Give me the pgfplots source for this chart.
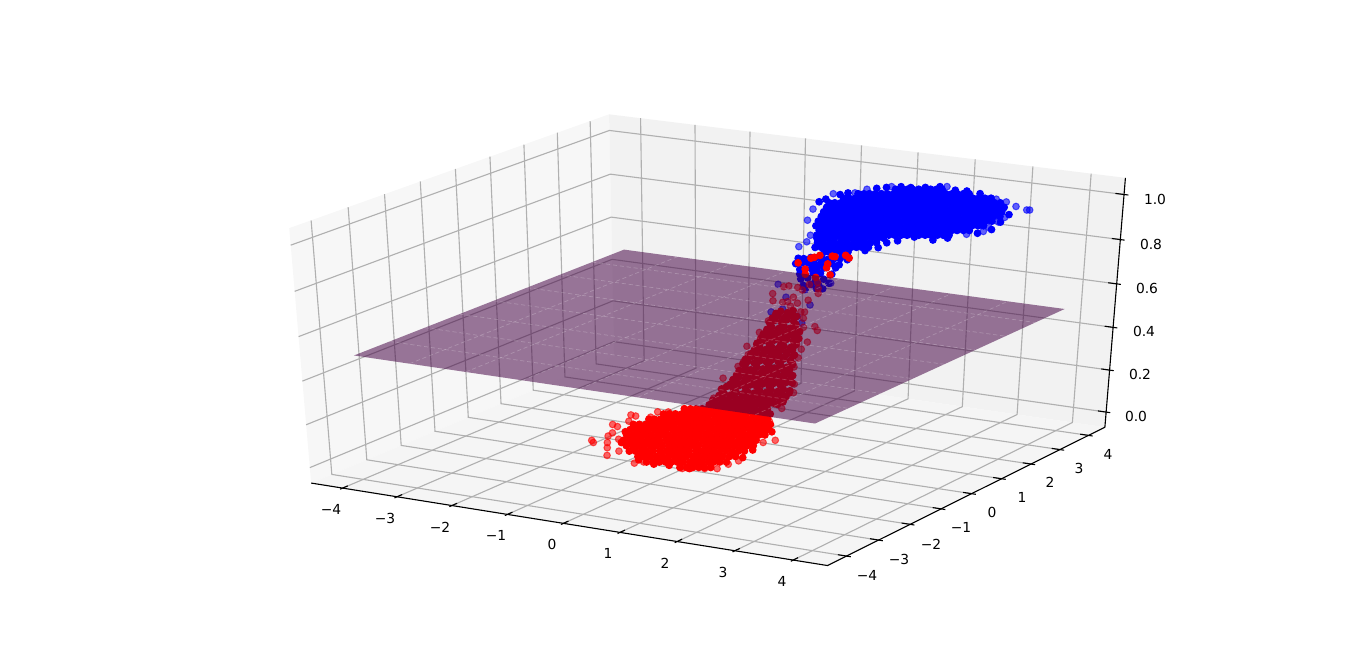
\documentclass[border=0pt]{standalone}
\usepackage{fontspec}
\setmainfont{DejaVu Sans}
\usepackage{pgfplots}
\pgfplotsset{compat=1.18}
\definecolor{planecol}{RGB}{66,0,66}
\definecolor{gridcol}{RGB}{176,176,176}
\definecolor{panex}{RGB}{247,247,247}
\definecolor{paney}{RGB}{242,242,242}
\definecolor{panez}{RGB}{245,245,245}
% perspective view of the 3d data, elev 30 azim -60, limits +-4.4 and -0.05..1.05, result in pixels
\pgfplotsset{
  table/proj/.style={row sep=\\,
    x expr={PX(\thisrow{x},\thisrow{y},\thisrow{z})},
    y expr={PY(\thisrow{x},\thisrow{y},\thisrow{z})}},
  table/projz/.style={row sep=\\,
    x expr={PX(\thisrow{x},\thisrow{y},#1)},
    y expr={PY(\thisrow{x},\thisrow{y},#1)}},
  pts/.style={only marks,mark=*,mark size=2.4bp,line width=0.72bp,color=#1,mark options={fill=#1,draw=#1}},
  ptsa/.style={only marks,mark=*,mark size=2.4bp,line width=0.72bp,color=#1,mark options={fill=#1,draw=#1,opacity=0.6}},
  gridl/.style={gridcol,line width=0.8bp,no marks},
  tickl/.style={black,line width=0.8bp,no marks},
  seam/.style={white,opacity=0.22,line width=0.5bp,dash pattern=on 3bp off 2bp,no marks},
}
\begin{document}
\begin{tikzpicture}[
  declare function={
    qw(\x,\y,\z)=10-(0.4330127*\x/8.8-0.75*\y/8.8+0.5*(\z-0.5)/1.1);
    PX(\x,\y,\z)=714.4+5722*(0.8660254*\x/8.8+0.5*\y/8.8)/qw(\x,\y,\z);
    PY(\x,\y,\z)=331.9-2793*(-0.25*\x/8.8+0.4330127*\y/8.8+0.8660254*(\z-0.5)/1.1)/qw(\x,\y,\z);
  }]
\useasboundingbox (0,0) rectangle (983.52bp,483.12bp);
\begin{axis}[at={(0,0)},anchor=south west,width=983.52bp,height=483.12bp,scale only axis,
  xmin=0,xmax=1366,ymin=0,ymax=671,y dir=reverse,hide axis,clip mode=individual,
  every node/.append style={font=\fontsize{10}{12}\selectfont,text=black,inner sep=0pt}]

% panes
\addplot[fill=panex,draw=none] table[proj]{x y z\\-4.5833 -4.5833 -0.0729\\-4.5833 -4.5833 1.0729\\-4.5833 4.5833 1.0729\\-4.5833 4.5833 -0.0729\\} --cycle;
\addplot[fill=paney,draw=none] table[proj]{x y z\\-4.5833 4.5833 -0.0729\\-4.5833 4.5833 1.0729\\4.5833 4.5833 1.0729\\4.5833 4.5833 -0.0729\\} --cycle;
\addplot[fill=panez,draw=none] table[proj]{x y z\\-4.5833 -4.5833 -0.0729\\4.5833 -4.5833 -0.0729\\4.5833 4.5833 -0.0729\\-4.5833 4.5833 -0.0729\\} --cycle;

% grid
\pgfplotsinvokeforeach{-4,-3,-2,-1,0,1,2,3,4}{
  \addplot[gridl] table[proj]{x y z\\#1 -4.5833 -0.0729\\#1 4.5833 -0.0729\\#1 4.5833 1.0729\\};
  \addplot[gridl] table[proj]{x y z\\4.5833 #1 -0.0729\\-4.5833 #1 -0.0729\\-4.5833 #1 1.0729\\};
  \addplot[tickl] table[proj]{x y z\\#1 -4.6566 -0.0729\\#1 -4.4366 -0.0729\\};
  \addplot[tickl] table[proj]{x y z\\4.6566 #1 -0.0729\\4.4366 #1 -0.0729\\};
}
\pgfplotsinvokeforeach{0,0.2,0.4,0.6,0.8,1.0}{
  \addplot[gridl] table[proj]{x y z\\-4.5833 -4.5833 #1\\-4.5833 4.5833 #1\\4.5833 4.5833 #1\\};
  \addplot[tickl] table[proj]{x y z\\4.6566 4.5833 #1\\4.4366 4.5833 #1\\};
}
% axis lines
\addplot[tickl] table[proj]{x y z\\-4.5833 -4.5833 -0.0729\\4.5833 -4.5833 -0.0729\\4.5833 4.5833 -0.0729\\4.5833 4.5833 1.0729\\};

% blue cluster, upper edge points
\addplot[ptsa=blue] table[projz=0.98]{x y\\.56 2.68\\3.39 3.31\\3.64 3.18\\3.68 3.20\\3.73 1.59\\3.69 1.85\\3.60 1.30\\2.90 3.60\\3.12 3.51\\3.28 3.11\\3.58 2.57\\3.64 2.25\\1.84 3.99\\1.10 3.56\\.86 3.21\\.82 2.90\\1.09 .92\\.80 1.61\\1.61 .08\\1.77 -.32\\1.82 -.65\\};
% blue cluster, dense part
\addplot[pts=blue] table[projz=0.98]{x y\\
.96 3.34\\1.06 3.47\\1.23 3.63\\1.39 3.65\\1.58 3.77\\1.75 3.93\\2.07 3.83\\2.25 3.87\\2.51 3.81\\2.80 3.62\\3.55 2.77\\3.67 2.26\\3.78 1.76\\3.71 1.44\\3.47 .94\\3.34 .72\\3.01 .75\\2.91 .41\\2.83 .22\\2.87 -.12\\2.79 -.38\\2.60 -.56\\.64 2.09\\.64 2.30\\.68 2.68\\.73 2.84\\
1.78 -.03\\1.86 .01\\1.93 .06\\2.01 .10\\2.09 .15\\2.17 .19\\2.25 .24\\2.33 .28\\2.40 .33\\2.48 .37\\2.56 .42\\2.64 .46\\
1.24 3.43\\1.32 3.47\\1.40 3.52\\1.47 3.56\\1.55 3.61\\1.63 3.65\\1.71 3.70\\1.79 3.74\\1.86 3.79\\
.89 2.87\\.97 2.91\\1.04 2.96\\1.12 3.00\\1.20 3.05\\1.28 3.09\\1.36 3.14\\1.43 3.18\\1.51 3.23\\1.59 3.27\\1.67 3.32\\1.75 3.36\\1.82 3.41\\1.90 3.45\\1.98 3.50\\2.06 3.54\\2.14 3.59\\2.21 3.63\\2.29 3.68\\2.37 3.72\\
.85 2.49\\.92 2.53\\1.00 2.58\\1.08 2.62\\1.16 2.67\\1.24 2.71\\1.31 2.76\\1.39 2.80\\1.47 2.85\\1.55 2.89\\1.63 2.94\\1.70 2.98\\1.78 3.03\\1.86 3.07\\1.94 3.12\\2.02 3.16\\2.09 3.21\\2.17 3.25\\2.25 3.30\\2.33 3.34\\2.41 3.39\\2.48 3.43\\2.56 3.48\\2.64 3.52\\2.72 3.57\\
.80 2.11\\.88 2.15\\.96 2.20\\1.04 2.24\\1.11 2.29\\1.19 2.33\\1.27 2.38\\1.35 2.42\\1.43 2.47\\1.51 2.51\\1.58 2.56\\1.66 2.60\\1.74 2.65\\1.82 2.69\\1.90 2.74\\1.97 2.78\\2.05 2.83\\2.13 2.87\\2.21 2.92\\2.29 2.96\\2.36 3.01\\2.44 3.05\\2.52 3.10\\2.60 3.14\\2.68 3.19\\2.75 3.23\\2.83 3.28\\2.91 3.32\\2.99 3.37\\3.07 3.41\\
.92 1.82\\1.00 1.86\\1.08 1.91\\1.15 1.95\\1.23 2.00\\1.31 2.04\\1.39 2.09\\1.47 2.13\\1.54 2.18\\1.62 2.22\\1.70 2.27\\1.78 2.31\\1.86 2.36\\1.93 2.40\\2.01 2.45\\2.09 2.49\\2.17 2.54\\2.25 2.59\\2.33 2.63\\2.40 2.68\\2.48 2.72\\2.56 2.77\\2.64 2.81\\2.72 2.86\\2.79 2.90\\2.87 2.95\\2.95 2.99\\3.03 3.04\\3.11 3.08\\3.18 3.13\\3.26 3.17\\
1.03 1.53\\1.11 1.57\\1.19 1.62\\1.27 1.66\\1.35 1.71\\1.42 1.75\\1.50 1.80\\1.58 1.84\\1.66 1.89\\1.74 1.93\\1.81 1.98\\1.89 2.02\\1.97 2.07\\2.05 2.11\\2.13 2.16\\2.20 2.20\\2.28 2.25\\2.36 2.29\\2.44 2.34\\2.52 2.38\\2.59 2.43\\2.67 2.47\\2.75 2.52\\2.83 2.56\\2.91 2.61\\2.98 2.65\\3.06 2.70\\3.14 2.74\\3.22 2.79\\3.30 2.83\\3.37 2.88\\
1.15 1.24\\1.23 1.28\\1.31 1.33\\1.38 1.37\\1.46 1.42\\1.54 1.46\\1.62 1.51\\1.70 1.55\\1.77 1.60\\1.85 1.64\\1.93 1.69\\2.01 1.73\\2.09 1.78\\2.16 1.82\\2.24 1.87\\2.32 1.91\\2.40 1.96\\2.48 2.00\\2.55 2.05\\2.63 2.09\\2.71 2.14\\2.79 2.18\\2.87 2.23\\2.94 2.27\\3.02 2.32\\3.10 2.36\\3.18 2.41\\3.26 2.45\\3.33 2.50\\3.41 2.54\\3.49 2.59\\
1.26 .95\\1.34 .99\\1.42 1.04\\1.50 1.08\\1.58 1.13\\1.65 1.17\\1.73 1.22\\1.81 1.26\\1.89 1.31\\1.97 1.35\\2.04 1.40\\2.12 1.44\\2.20 1.49\\2.28 1.53\\2.36 1.58\\2.43 1.62\\2.51 1.67\\2.59 1.71\\2.67 1.76\\2.75 1.80\\2.82 1.85\\2.90 1.89\\2.98 1.94\\3.06 1.98\\3.14 2.03\\3.21 2.07\\3.29 2.12\\3.37 2.16\\3.45 2.21\\3.53 2.25\\
1.38 .66\\1.46 .71\\1.54 .75\\1.61 .80\\1.69 .84\\1.77 .89\\1.85 .93\\1.93 .98\\2.00 1.02\\2.08 1.07\\2.16 1.11\\2.24 1.16\\2.32 1.20\\2.39 1.25\\2.47 1.29\\2.55 1.34\\2.63 1.38\\2.71 1.43\\2.78 1.47\\2.86 1.52\\2.94 1.56\\3.02 1.61\\3.10 1.65\\3.17 1.70\\3.25 1.74\\3.33 1.79\\3.41 1.83\\3.49 1.88\\3.56 1.92\\
1.57 .42\\1.65 .46\\1.73 .51\\1.80 .55\\1.88 .60\\1.96 .64\\2.04 .69\\2.12 .73\\2.19 .78\\2.27 .82\\2.35 .87\\2.43 .91\\2.51 .96\\2.58 1.00\\2.66 1.05\\2.74 1.09\\2.82 1.14\\2.90 1.18\\2.97 1.23\\3.05 1.27\\3.13 1.32\\3.21 1.36\\3.29 1.41\\3.36 1.45\\3.44 1.50\\3.52 1.54\\
1.69 .13\\1.77 .17\\1.84 .22\\1.92 .26\\2.00 .31\\2.08 .35\\2.16 .40\\2.23 .44\\2.31 .49\\2.39 .53\\2.47 .58\\2.55 .62\\2.62 .67\\2.70 .71\\2.78 .76\\2.86 .80\\2.94 .85\\3.01 .89\\3.09 .94\\3.17 .98\\3.25 1.03\\3.33 1.07\\3.40 1.12\\
};
\addplot[pts=blue] table[projz=0.85]{x y\\
1.00 1.41\\1.08 1.45\\1.16 1.50\\1.23 1.54\\1.31 1.59\\1.39 1.63\\1.47 1.68\\1.55 1.72\\1.62 1.77\\1.70 1.81\\1.78 1.86\\
1.12 1.12\\1.20 1.17\\1.27 1.21\\1.35 1.26\\1.43 1.30\\1.51 1.35\\1.59 1.39\\1.66 1.44\\1.74 1.48\\1.82 1.53\\
1.39 .92\\1.46 .96\\1.54 1.01\\1.62 1.05\\1.70 1.10\\
};
% blue, on the way down
\addplot[pts=blue] table[proj]{x y z\\
1.03 .76 .82\\.90 1.17 .79\\1.17 .90 .82\\1.04 1.31 .79\\1.30 1.03 .81\\1.17 1.44 .78\\1.44 1.17 .81\\1.31 1.58 .78\\1.58 1.31 .80\\
.81 1.08 .77\\1.08 .81 .80\\.95 1.22 .77\\1.21 .94 .79\\1.08 1.35 .76\\1.35 1.08 .79\\1.22 1.49 .76\\1.49 1.22 .78\\
1.05 .78 .77\\.91 1.18 .74\\1.18 .91 .77\\1.05 1.32 .74\\1.32 1.05 .77\\1.26 1.53 .74\\
1.05 .78 .75\\.91 1.18 .72\\1.20 .93 .75\\1.09 1.36 .72\\1.41 1.14 .74\\
.87 1.14 .70\\1.14 .87 .73\\1.04 1.31 .69\\1.32 1.05 .72\\
.90 1.17 .67\\1.18 .91 .70\\1.07 1.34 .67\\1.38 1.11 .70\\
.92 1.19 .65\\1.24 .97 .68\\1.12 1.39 .65\\
};
\addplot[ptsa=blue] table[proj]{x y z\\.81 .54 .71\\.54 .81 .56\\.90 .63 .65\\.98 1.25 .58\\1.40 1.13 .70\\.89 1.16 .50\\1.03 .76 .56\\.67 .94 .57\\};

% red cluster, edge points
\addplot[ptsa=red] table[projz=0.02]{x y\\-1.51 -1.23\\-1.42 -1.33\\-.84 -1.88\\-1.07 -1.49\\-1.23 -1.22\\-1.42 -.88\\-1.72 -.24\\-1.59 -.31\\-1.46 -.68\\-1.18 -.96\\-.81 -1.57\\-1.60 .06\\-1.77 .41\\-1.67 .39\\-1.43 .45\\-1.50 .79\\-1.35 .87\\-.24 -2.06\\-.15 -1.93\\.56 -1.96\\.86 -1.79\\1.03 -1.70\\1.05 -1.39\\1.09 -1.14\\.88 0\\.98 .21\\.33 1.17\\};
% red cluster, dense part
\addplot[pts=red] table[projz=0.02]{x y\\
-.28 -1.86\\.05 -1.96\\.29 -1.90\\.66 -1.91\\1.05 -.94\\.96 -.47\\.68 .63\\-1.32 -.52\\-1.04 -1.11\\
-1.23 1.17\\-1.14 1.21\\-1.06 1.26\\-.98 1.31\\-.90 1.36\\-.82 1.40\\-.74 1.45\\-.65 1.50\\-.57 1.54\\-.49 1.59\\-.41 1.64\\-.33 1.69\\-.25 1.73\\-.16 1.78\\-.08 1.83\\
-1.35 .72\\-1.27 .77\\-1.19 .82\\-1.10 .86\\-1.02 .91\\-.94 .96\\-.86 1.01\\-.78 1.05\\-.70 1.10\\-.61 1.15\\-.53 1.19\\-.45 1.24\\-.37 1.29\\-.29 1.34\\-.21 1.38\\-.12 1.43\\-.04 1.48\\.04 1.53\\.12 1.57\\
-1.39 .33\\-1.31 .37\\-1.23 .42\\-1.15 .47\\-1.07 .52\\-.98 .56\\-.90 .61\\-.82 .66\\-.74 .70\\-.66 .75\\-.58 .80\\-.49 .85\\-.41 .89\\-.33 .94\\-.25 .99\\-.17 1.03\\-.09 1.08\\0 1.13\\.08 1.18\\.16 1.22\\.24 1.27\\
-1.44 -.07\\-1.36 -.02\\-1.27 .02\\-1.19 .07\\-1.11 .12\\-1.03 .17\\-.95 .21\\-.87 .26\\-.78 .31\\-.70 .35\\-.62 .40\\-.54 .45\\-.46 .50\\-.38 .54\\-.29 .59\\-.21 .64\\-.13 .68\\-.05 .73\\.03 .78\\.11 .83\\.20 .87\\.28 .92\\.36 .97\\.44 1.01\\
-1.32 -.37\\-1.23 -.33\\-1.15 -.28\\-1.07 -.23\\-.99 -.18\\-.91 -.14\\-.83 -.09\\-.74 -.04\\-.66 0\\-.58 .05\\-.50 .10\\-.42 .15\\-.34 .19\\-.25 .24\\-.17 .29\\-.09 .33\\-.01 .38\\.07 .43\\.15 .48\\.23 .52\\.32 .57\\.40 .62\\.48 .66\\.56 .71\\
-1.20 -.68\\-1.11 -.63\\-1.03 -.58\\-.95 -.53\\-.87 -.49\\-.79 -.44\\-.71 -.39\\-.62 -.35\\-.54 -.30\\-.46 -.25\\-.38 -.20\\-.30 -.16\\-.22 -.11\\-.13 -.06\\-.05 -.02\\.03 .03\\.11 .08\\.19 .13\\.27 .17\\.36 .22\\.44 .27\\.52 .31\\.60 .36\\.68 .41\\
-1.08 -.98\\-.99 -.93\\-.91 -.88\\-.83 -.84\\-.75 -.79\\-.67 -.74\\-.59 -.70\\-.50 -.65\\-.42 -.60\\-.34 -.55\\-.26 -.51\\-.18 -.46\\-.10 -.41\\-.01 -.37\\.07 -.32\\.15 -.27\\.23 -.22\\.31 -.18\\.39 -.13\\.48 -.08\\.56 -.04\\.64 .01\\.72 .06\\
-.88 -1.23\\-.79 -1.19\\-.71 -1.14\\-.63 -1.09\\-.55 -1.04\\-.47 -1.00\\-.39 -.95\\-.30 -.90\\-.22 -.86\\-.14 -.81\\-.06 -.76\\.02 -.71\\.10 -.67\\.19 -.62\\.27 -.57\\.35 -.53\\.43 -.48\\.51 -.43\\.59 -.38\\.68 -.34\\.76 -.29\\.84 -.24\\
-.67 -1.49\\-.59 -1.44\\-.51 -1.39\\-.43 -1.35\\-.35 -1.30\\-.26 -1.25\\-.18 -1.20\\-.10 -1.16\\-.02 -1.11\\.06 -1.06\\.14 -1.02\\.23 -.97\\.31 -.92\\.39 -.87\\.47 -.83\\.55 -.78\\.63 -.73\\.72 -.69\\.80 -.64\\.88 -.59\\
-.39 -1.70\\-.31 -1.65\\-.23 -1.60\\-.14 -1.56\\-.06 -1.51\\.02 -1.46\\.10 -1.41\\.18 -1.37\\.26 -1.32\\.35 -1.27\\.43 -1.23\\.51 -1.18\\.59 -1.13\\.67 -1.08\\.75 -1.04\\.84 -.99\\.92 -.94\\
-.11 -1.91\\-.02 -1.86\\.06 -1.81\\.14 -1.76\\.22 -1.72\\.30 -1.67\\.38 -1.62\\.47 -1.58\\.55 -1.53\\.63 -1.48\\.71 -1.43\\.79 -1.39\\.87 -1.34\\.96 -1.29\\
.50 -1.93\\.59 -1.88\\.67 -1.83\\.75 -1.78\\.83 -1.74\\.91 -1.69\\
};
% red, rising part
\addplot[pts=red] table[proj]{x y z\\
.01 -.26 .16\\-.12 .15 .14\\.15 -.12 .16\\.01 .28 .14\\.28 .01 .16\\.15 .42 .14\\.42 .15 .16\\.28 .55 .14\\.55 .28 .16\\.42 .69 .14\\.69 .42 .16\\.55 .82 .14\\.82 .55 .16\\.69 .96 .14\\
.04 -.23 .18\\-.09 .18 .16\\.18 -.09 .18\\.04 .31 .16\\.31 .04 .18\\.18 .45 .16\\.45 .18 .18\\.31 .58 .16\\.58 .31 .18\\.45 .72 .16\\.72 .45 .18\\.58 .85 .16\\.85 .58 .18\\.72 .99 .16\\
.08 -.19 .20\\-.05 .22 .18\\.21 -.06 .20\\.08 .35 .18\\.35 .08 .20\\.22 .49 .18\\.48 .21 .20\\.35 .62 .18\\.62 .35 .20\\.49 .76 .18\\.75 .48 .20\\.62 .89 .18\\.89 .62 .20\\.76 1.03 .18\\
.15 -.12 .22\\.01 .28 .20\\.28 .01 .22\\.15 .42 .20\\.42 .15 .22\\.28 .55 .20\\.55 .28 .22\\.42 .69 .20\\.69 .42 .22\\.55 .82 .20\\.82 .55 .22\\.69 .96 .20\\.96 .69 .22\\
.18 -.09 .25\\.04 .31 .23\\.31 .04 .25\\.18 .45 .23\\.45 .18 .25\\.31 .58 .23\\.58 .31 .25\\.45 .72 .23\\.72 .45 .25\\.58 .85 .23\\.85 .58 .25\\.72 .99 .23\\
.28 .01 .27\\.15 .42 .25\\.42 .15 .27\\.28 .55 .25\\.55 .28 .27\\.42 .69 .25\\.69 .42 .27\\.55 .82 .25\\.82 .55 .27\\.69 .96 .25\\.96 .69 .27\\
.31 .04 .29\\.18 .45 .27\\.45 .18 .29\\.31 .58 .27\\.58 .31 .29\\.45 .72 .27\\.72 .45 .29\\.58 .85 .27\\.85 .58 .29\\.72 .99 .27\\.99 .72 .29\\
.35 .08 .31\\.22 .49 .29\\.48 .21 .31\\.35 .62 .29\\.62 .35 .31\\.49 .76 .29\\.75 .48 .31\\.62 .89 .29\\.89 .62 .31\\.76 1.03 .29\\
.38 .11 .33\\.25 .52 .31\\.51 .24 .33\\.38 .65 .31\\.65 .38 .33\\.52 .79 .31\\.78 .51 .33\\.65 .92 .31\\.92 .65 .33\\.79 1.06 .31\\
.42 .15 .36\\.28 .55 .34\\.55 .28 .36\\.42 .69 .34\\.69 .42 .36\\.55 .82 .34\\.82 .55 .36\\.69 .96 .34\\.96 .69 .36\\
.45 .18 .38\\.31 .58 .36\\.58 .31 .38\\.45 .72 .36\\.72 .45 .38\\.58 .85 .36\\.85 .58 .38\\.72 .99 .36\\.99 .72 .38\\
.51 .24 .40\\.38 .65 .38\\.65 .38 .40\\.52 .79 .38\\.78 .51 .40\\.65 .92 .38\\.92 .65 .40\\.79 1.06 .38\\
.55 .28 .42\\.42 .69 .40\\.69 .42 .42\\.55 .82 .40\\.82 .55 .42\\.69 .96 .40\\.96 .69 .42\\.82 1.09 .40\\
.58 .31 .45\\.45 .72 .43\\.72 .45 .45\\.58 .85 .43\\.85 .58 .45\\.72 .99 .43\\.99 .72 .45\\.86 1.13 .43\\
.62 .35 .47\\.49 .76 .45\\.75 .48 .47\\.62 .89 .45\\.89 .62 .47\\.76 1.03 .45\\1.02 .75 .47\\
.65 .38 .49\\.52 .79 .47\\.78 .51 .49\\.65 .92 .47\\.92 .65 .49\\.79 1.06 .47\\1.06 .79 .49\\
.69 .42 .51\\.55 .82 .49\\.82 .55 .51\\.69 .96 .49\\.96 .69 .51\\.82 1.09 .49\\
.72 .45 .54\\.58 .85 .52\\.85 .58 .54\\.72 .99 .52\\.99 .72 .54\\
.75 .48 .56\\.62 .89 .54\\.89 .62 .56\\.76 1.03 .54\\1.02 .75 .56\\
.79 .52 .58\\.65 .92 .56\\.92 .65 .58\\.79 1.06 .56\\
.01 .01 .17\\.15 .15 .17\\.28 .28 .16\\.42 .42 .16\\.55 .55 .16\\.69 .69 .15\\
.08 .08 .21\\.21 .21 .21\\.35 .35 .21\\.48 .48 .20\\.62 .62 .20\\.75 .75 .20\\
.21 .21 .26\\.35 .35 .25\\.48 .48 .25\\.62 .62 .25\\.75 .75 .24\\.89 .89 .24\\
.28 .28 .30\\.42 .42 .30\\.55 .55 .29\\.69 .69 .29\\.87 .87 .28\\
.35 .35 .34\\.48 .48 .34\\.62 .62 .34\\.75 .75 .33\\.89 .89 .33\\
.42 .42 .39\\.55 .55 .38\\.69 .69 .38\\.82 .82 .38\\.91 .91 .37\\
.48 .48 .43\\.62 .62 .43\\.75 .75 .42\\.93 .93 .42\\
.55 .55 .47\\.69 .69 .47\\.82 .82 .47\\.93 .93 .46\\
.63 .63 .52\\.77 .77 .51\\.92 .92 .51\\
};
\addplot[ptsa=red] table[proj]{x y z\\
.75 .48 .67\\.56 .83 .61\\.93 .66 .70\\.68 .95 .67\\1.03 .76 .69\\.89 1.16 .65\\1.16 .89 .70\\1.06 1.33 .68\\1.26 .99 .68\\1.07 1.34 .63\\1.15 .88 .63\\.79 1.06 .62\\.92 .65 .63\\.67 .94 .60\\1.03 .76 .62\\.76 1.03 .58\\1.07 .80 .58\\.92 1.19 .55\\1.10 .83 .55\\1.04 1.31 .48\\1.26 .99 .49\\.91 1.18 .48\\1.15 .88 .44\\.89 1.16 .38\\1.05 .78 .37\\.81 1.08 .30\\1.01 .74 .25\\.81 1.08 .18\\.87 .60 .14\\.41 .68 .47\\.62 .35 .46\\.27 .54 .41\\.48 .21 .40\\.17 .44 .32\\.43 .16 .37\\0 .27 .27\\.20 -.07 .25\\.51 .78 .52\\.09 -.18 .21\\
};
\addplot[pts=red] table[proj]{x y z\\
1.03 .76 .80\\.98 1.25 .79\\1.21 .94 .82\\1.08 1.35 .80\\1.41 1.14 .82\\1.25 1.52 .79\\1.56 1.29 .82\\1.41 1.68 .78\\1.11 .84 .77\\1.17 1.44 .76\\1.35 1.08 .77\\1.20 1.47 .71\\1.23 .96 .73\\.92 1.19 .72\\
};

% decision plane at z=0.5, over the points
\addplot[fill=planecol,fill opacity=0.53,draw=none] table[proj]{x y z\\-4 -4 0.5\\4 -4 0.5\\4 4 0.5\\-4 4 0.5\\} --cycle;
\pgfplotsinvokeforeach{-3,-2,-1,0,1,2,3}{
  \addplot[seam] table[proj]{x y z\\#1 -4 0.5\\#1 4 0.5\\};
  \addplot[seam] table[proj]{x y z\\-4 #1 0.5\\4 #1 0.5\\};
}

% tick labels
\node at (axis cs:331,509) {−4};
\node at (axis cs:385,518) {−3};
\node at (axis cs:440,527) {−2};
\node at (axis cs:496,535) {−1};
\node at (axis cs:552,544) {0};
\node at (axis cs:608,553) {1};
\node at (axis cs:665,563) {2};
\node at (axis cs:723,572) {3};
\node at (axis cs:782,581) {4};
\node at (axis cs:867,575) {−4};
\node at (axis cs:899,559) {−3};
\node at (axis cs:931,544) {−2};
\node at (axis cs:961,527) {−1};
\node at (axis cs:992,512) {0};
\node at (axis cs:1022,497) {1};
\node at (axis cs:1050,482) {2};
\node at (axis cs:1079,468) {3};
\node at (axis cs:1108,454) {4};
\node at (axis cs:1155,199) {1.0};
\node at (axis cs:1151,244) {0.8};
\node at (axis cs:1147,288) {0.6};
\node at (axis cs:1144,331) {0.4};
\node at (axis cs:1140,374) {0.2};
\node at (axis cs:1136,416) {0.0};
\end{axis}
\end{tikzpicture}
\end{document}
